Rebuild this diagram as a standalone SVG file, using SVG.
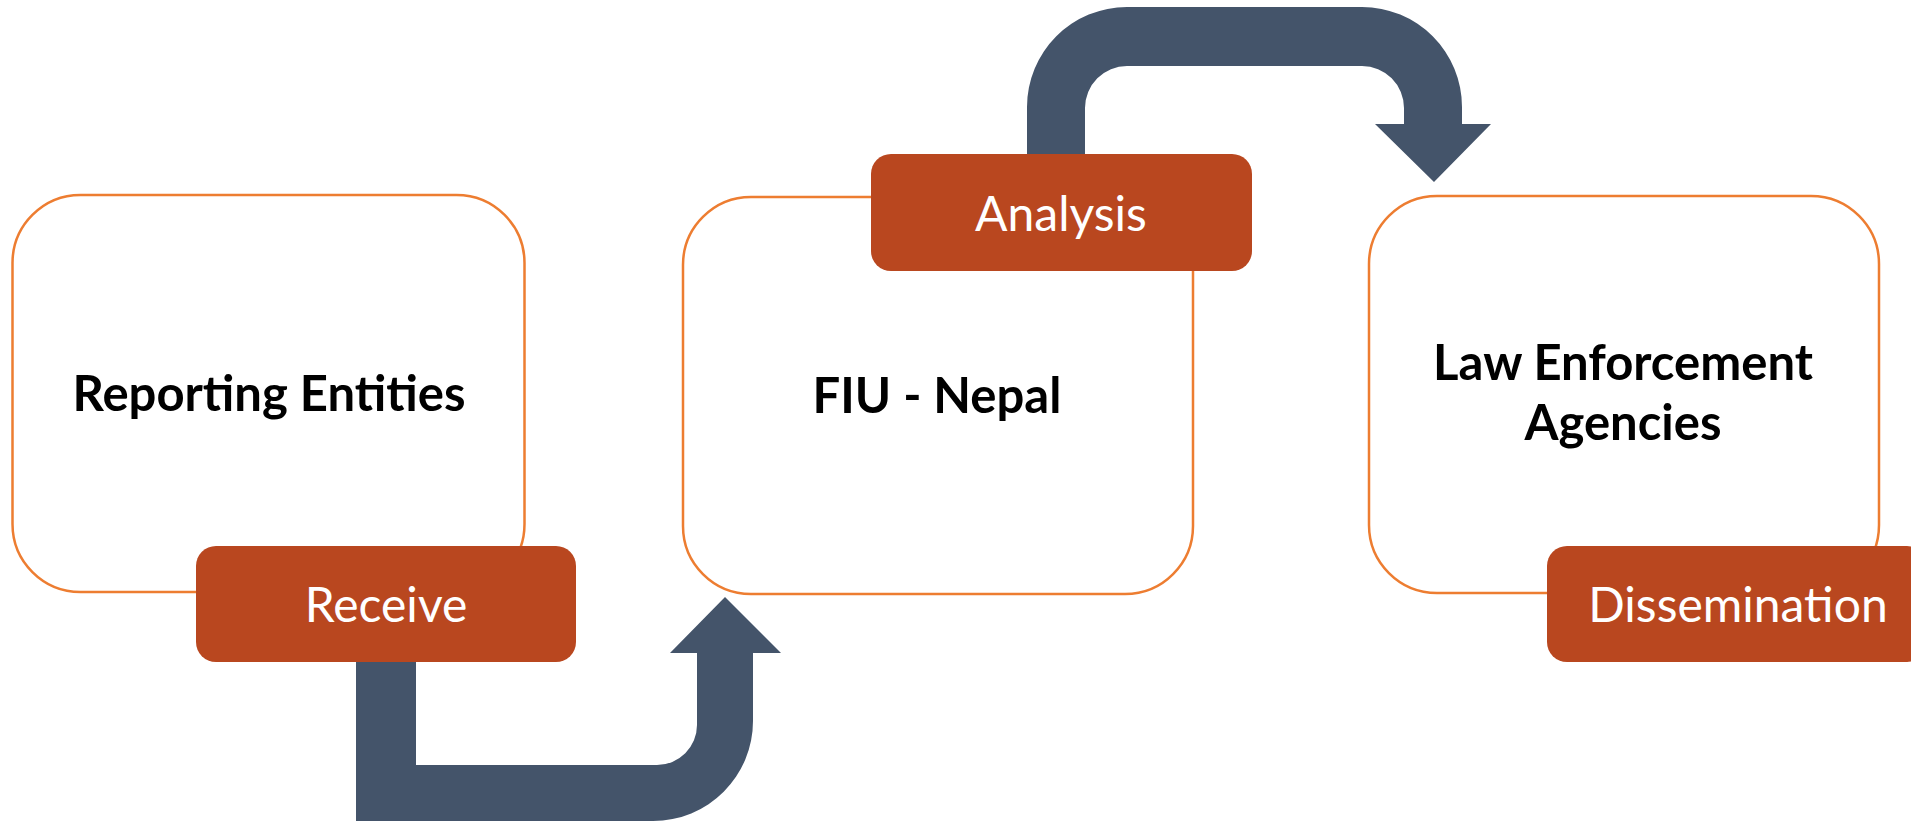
<svg xmlns="http://www.w3.org/2000/svg" width="1911" height="822" viewBox="0 0 1911 822">
  <style>
    .box { fill: #FFFFFF; stroke: #ED7D31; stroke-width: 2.5; }
    .tab { fill: #B9471F; }
    .conn { fill: #44546A; }
    .title { font-family: Lato, "Open Sans", "Liberation Sans", sans-serif; font-weight: 700; font-size: 49px; fill: #000000; text-anchor: middle; }
    .label { font-family: Lato, "Open Sans", "Liberation Sans", sans-serif; font-weight: 400; font-size: 48px; fill: #FFFFFF; text-anchor: middle; }
  </style>
  <rect width="1911" height="822" fill="#FFFFFF"/>

  <g id="node-reporting-entities">
    <rect class="box" x="12.5" y="195" width="512" height="397" rx="68" ry="68"/>
    <text class="title" x="269" y="411">Reporting Entities</text>
  </g>

  <g id="node-fiu-nepal">
    <rect class="box" x="683" y="197" width="510" height="397" rx="68" ry="68"/>
    <text class="title" x="937" y="413">FIU - Nepal</text>
  </g>

  <g id="node-law-enforcement">
    <rect class="box" x="1369" y="196" width="510" height="397" rx="68" ry="68"/>
    <text class="title" x="1623" y="380">Law Enforcement</text>
    <text class="title" x="1623" y="440">Agencies</text>
  </g>

  <g id="connectors">
    <path class="conn" d="M356,640 L356,821 L653,821 A100,100 0 0 0 753,721 L753,653 L781,653 L725,597 L670,653 L697,653 L697,725 A40,40 0 0 1 657,765 L416,765 L416,640 Z"/>
    <path class="conn" d="M1027,170 L1027,107 A100,100 0 0 1 1127,7 L1362,7 A100,100 0 0 1 1462,107 L1462,124 L1491,124 L1434,182 L1375,124 L1404,124 L1404,108 A42,42 0 0 0 1362,66 L1127,66 A42,42 0 0 0 1085,108 L1085,170 Z"/>
  </g>

  <g id="tab-receive">
    <rect class="tab" x="196" y="546" width="380" height="116" rx="20" ry="20"/>
    <text class="label" x="386" y="622">Receive</text>
  </g>

  <g id="tab-analysis">
    <rect class="tab" x="871" y="154" width="381" height="117" rx="20" ry="20"/>
    <text class="label" x="1061" y="231">Analysis</text>
  </g>

  <g id="tab-dissemination">
    <rect class="tab" x="1547" y="546" width="380" height="116" rx="20" ry="20"/>
    <text class="label" x="1738" y="622">Dissemination</text>
  </g>
</svg>
